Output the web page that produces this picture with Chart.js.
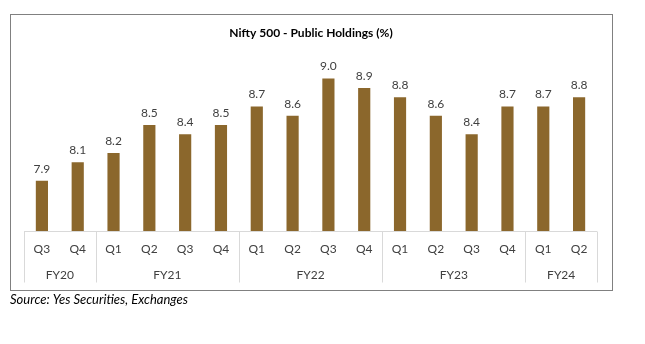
<!DOCTYPE html>
<html>
<head>
<meta charset="utf-8">
<script src="https://cdn.jsdelivr.net/npm/chart.js@4"></script>
<style>
  html, body { margin: 0; padding: 0; background: #fff; }
  #wrap { position: relative; width: 645px; height: 344px; }
</style>
</head>
<body>
<div id="wrap"><canvas id="holdingsChart" width="645" height="344"></canvas></div>
<script>
// Nifty 500 public holdings by quarter, grouped by fiscal year
const quarters = ["Q3", "Q4", "Q1", "Q2", "Q3", "Q4", "Q1", "Q2", "Q3", "Q4", "Q1", "Q2", "Q3", "Q4", "Q1", "Q2"];
const fiscalYears = ["FY20", "FY20", "FY21", "FY21", "FY21", "FY21", "FY22", "FY22", "FY22", "FY22", "FY23", "FY23", "FY23", "FY23", "FY24", "FY24"];
const publicHoldings = [7.9, 8.1, 8.2, 8.5, 8.4, 8.5, 8.7, 8.6, 9.0, 8.9, 8.8, 8.6, 8.4, 8.7, 8.7, 8.8];

const FONT = "Lato, 'Open Sans', sans-serif";
const TEXT = "#404040";
const GRID = "#d9d9d9";

// draws frame, title, value labels, the two-level category axis and source note
const decorations = {
  id: "decorations",
  afterDatasetsDraw(chart) {
    const { ctx, chartArea } = chart;
    const x = chart.scales.x;
    const base = chartArea.bottom + 0.5;
    const step = x.width / quarters.length;

    ctx.save();

    // outer frame
    ctx.strokeStyle = "#808080";
    ctx.lineWidth = 1;
    ctx.strokeRect(10.5, 14.5, 602, 276);

    // title
    ctx.fillStyle = "#000";
    ctx.font = "bold 12px " + FONT;
    ctx.textAlign = "center";
    ctx.textBaseline = "middle";
    ctx.fillText("Nifty 500 - Public Holdings (%)", 311, 33);

    // value labels
    ctx.fillStyle = TEXT;
    ctx.font = "12px " + FONT;
    ctx.textBaseline = "bottom";
    chart.getDatasetMeta(0).data.forEach((bar, i) => {
      ctx.fillText(publicHoldings[i].toFixed(1), bar.x, bar.y - 6);
    });

    // axis line
    ctx.strokeStyle = GRID;
    ctx.beginPath();
    ctx.moveTo(x.left, base);
    ctx.lineTo(x.right, base);
    ctx.stroke();

    // quarter labels
    ctx.textBaseline = "middle";
    quarters.forEach((q, i) => {
      ctx.fillText(q, x.getPixelForValue(i), base + 18);
    });

    // fiscal year groups with separators
    const sep = px => {
      const p = Math.round(px) + 0.5;
      ctx.beginPath();
      ctx.moveTo(p, base);
      ctx.lineTo(p, base + 51);
      ctx.stroke();
    };
    let start = 0;
    for (let i = 1; i <= fiscalYears.length; i++) {
      if (i === fiscalYears.length || fiscalYears[i] !== fiscalYears[start]) {
        const left = x.getPixelForValue(start) - step / 2;
        const right = x.getPixelForValue(i - 1) + step / 2;
        if (start === 0) sep(left);
        sep(right);
        ctx.fillText(fiscalYears[start], (left + right) / 2, base + 44);
        start = i;
      }
    }

    // source note
    ctx.fillStyle = "#000";
    ctx.font = "italic 13px " + FONT;
    ctx.textAlign = "left";
    ctx.fillText("Source: Yes Securities, Exchanges", 10, 300);

    ctx.restore();
  }
};

new Chart(document.getElementById("holdingsChart"), {
  type: "bar",
  data: {
    labels: quarters,
    datasets: [{
      data: publicHoldings,
      backgroundColor: "#8b672c",
      categoryPercentage: 1,
      barPercentage: 0.34
    }]
  },
  options: {
    responsive: false,
    animation: false,
    layout: { padding: { left: 24, right: 48, top: 60, bottom: 113 } },
    plugins: {
      legend: { display: false },
      title: { display: false },
      tooltip: { enabled: false }
    },
    scales: {
      x: { display: false },
      y: { display: false, min: 7.36, max: 9.2 }
    }
  },
  plugins: [decorations]
});
</script>
</body>
</html>
